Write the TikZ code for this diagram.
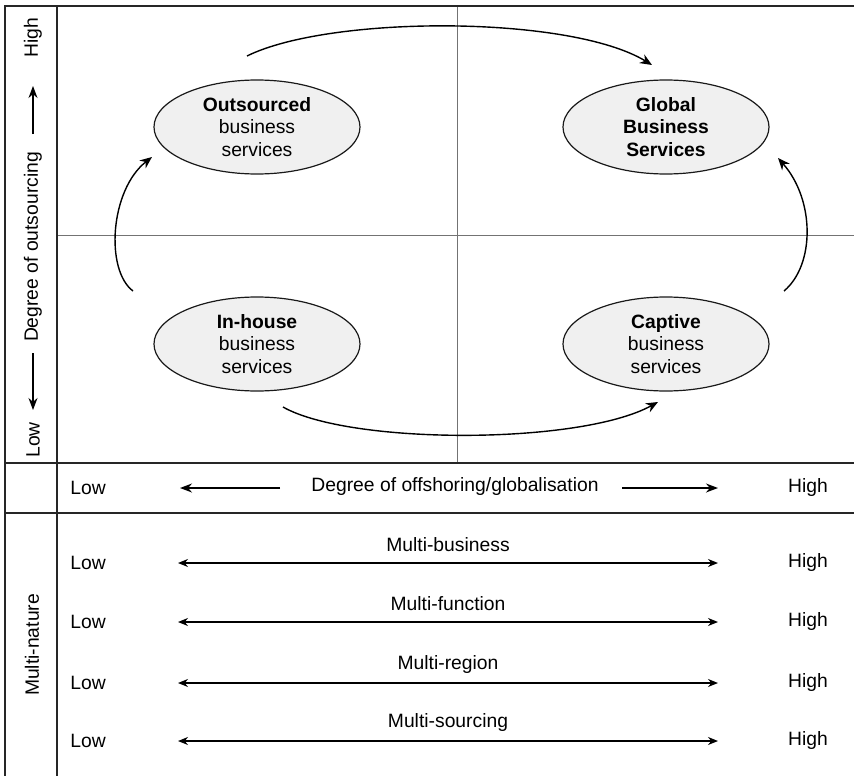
\documentclass[tikz,border=0pt]{standalone}
\usepackage{fontspec}
\setmainfont{Liberation Sans}
\usetikzlibrary{arrows.meta,shapes.geometric}
\begin{document}
\begin{tikzpicture}[x=1pt,y=-1pt,
  frame/.style={line width=2pt,draw=black!85},
  thickframe/.style={line width=2.6pt,draw=black!85},
  quad/.style={line width=0.8pt,draw=black!55},
  oval/.style={ellipse,draw=black!90,line width=1.2pt,fill=black!6,minimum width=206pt,minimum height=94pt,inner sep=0pt,align=center,font=\fontsize{19.3}{22.5}\selectfont},
  flow/.style={line width=1.4pt,-{Stealth[length=12pt,width=10pt]}},
  twoway/.style={line width=1.4pt,{Stealth[length=10pt,width=8pt]}-{Stealth[length=10pt,width=8pt]}},
  axarr/.style={line width=1.4pt,-{Stealth[length=12pt,width=9pt]}},
  lbl/.style={font=\fontsize{19.3}{22}\selectfont,inner sep=0pt},
  vlbl/.style={font=\fontsize{19.3}{22}\selectfont,inner sep=0pt,rotate=90}
]
\useasboundingbox (0,0) rectangle (854,776);
% quadrant lines
\draw[quad] (57,235) -- (854,235);
\draw[quad] (457,6) -- (457,463);
% frame
\draw[frame] (5,776) -- (5,6) -- (854,6);
\draw[frame] (57,6) -- (57,776);
\draw[thickframe] (5,463) -- (854,463);
\draw[thickframe] (5,513) -- (854,513);
% ellipses
\node[oval] (out) at (257,127) {\textbf{Outsourced}\\business\\services};
\node[oval] (gbs) at (666,127) {\textbf{Global}\\\textbf{Business}\\\textbf{Services}};
\node[oval] (inh) at (257,344) {\textbf{In-house}\\business\\services};
\node[oval] (cap) at (666,344) {\textbf{Captive}\\business\\services};
% flow arrows
\coordinate (t1) at (247,56); \coordinate (t2) at (652,65);
\coordinate (b1) at (283,407); \coordinate (b2) at (658,402);
\coordinate (l1) at (133,291); \coordinate (l2) at (152,157);
\coordinate (r1) at (784,291); \coordinate (r2) at (778,158);
\draw[flow] (t1) .. controls (330,15) and (570,15) .. (t2);
\draw[flow] (b1) .. controls (350,445) and (580,445) .. (b2);
\draw[flow] (l1) .. controls (105,270) and (110,190) .. (l2);
\draw[flow] (r1) .. controls (815,265) and (815,200) .. (r2);
% vertical axis label
\node[vlbl] (vhigh) at (33,38) {High};
\node[vlbl] (vdeg) at (33,247) {Degree of outsourcing};
\node[vlbl] (vlow) at (33,440) {Low};
\coordinate (vu1) at (33,134); \coordinate (vu2) at (33,86);
\coordinate (vd1) at (33,353); \coordinate (vd2) at (33,410);
\draw[axarr] (vu1) -- (vu2);
\draw[axarr] (vd1) -- (vd2);
% horizontal axis row
\node[lbl] (hlow) at (88,488) {Low};
\node[lbl] (hdeg) at (455,487) {Degree of offshoring/globalisation};
\node[lbl] (hhigh) at (808,488) {High};
\coordinate (hl1) at (280,488); \coordinate (hl2) at (180,488);
\coordinate (hr1) at (622,488); \coordinate (hr2) at (718,488);
\draw[axarr] (hl1) -- (hl2);
\draw[axarr] (hr1) -- (hr2);
% multi-nature
\node[vlbl] (mn) at (32,645) {Multi-nature};
\foreach \y/\t [count=\i] in {563/Multi-business,622/Multi-function,683/Multi-region,741/Multi-sourcing}{
  \node[lbl] (low\i) at (88,\y) {Low};
  \node[lbl] (high\i) at (808,\y) {High};
  \node[lbl] (lab\i) at (448,\y-18) {\t};
  \coordinate (a\i) at (178,\y); \coordinate (e\i) at (718,\y);
  \draw[twoway] (a\i) -- (e\i);
}
\end{tikzpicture}
\end{document}
